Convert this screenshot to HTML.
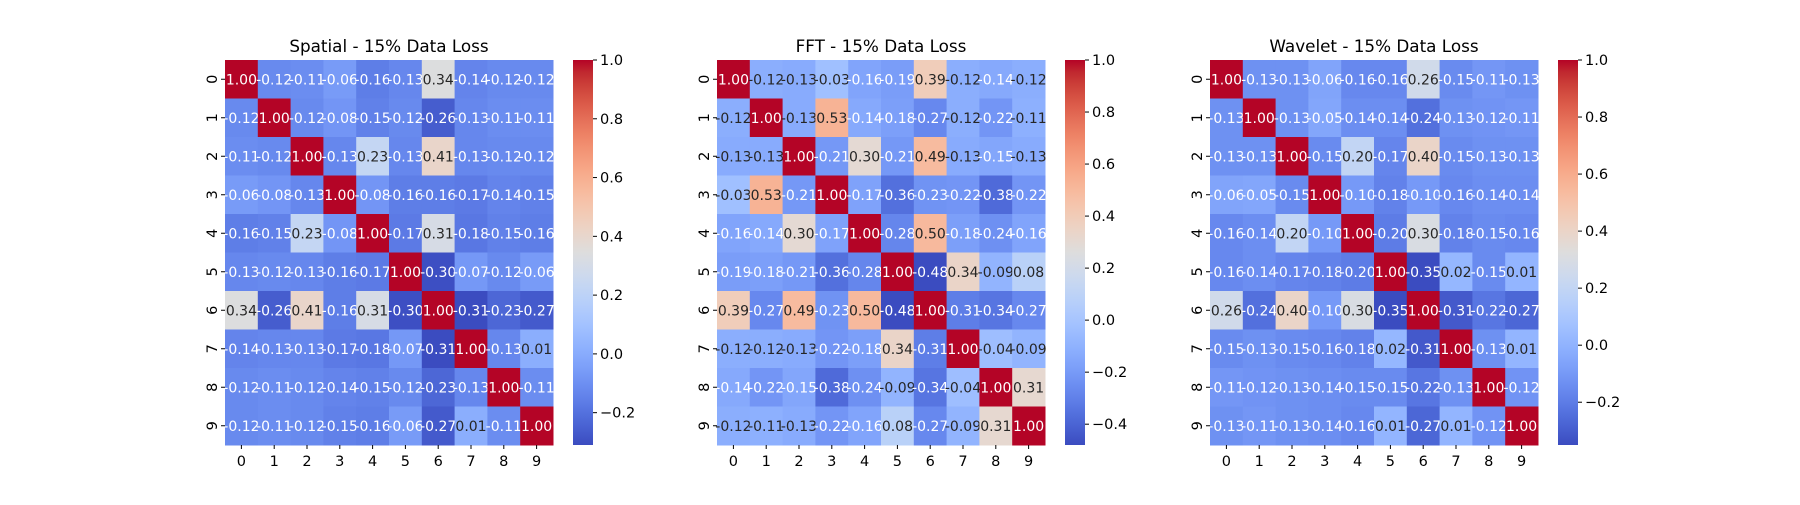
<!DOCTYPE html>
<html><head><meta charset="utf-8"><style>
html,body{margin:0;padding:0;background:#fff;}
svg text{font-family:"DejaVu Sans","Liberation Sans",sans-serif;}
</style></head><body>
<svg id="fig" width="1800" height="500" viewBox="0 0 1800 500" xmlns="http://www.w3.org/2000/svg"></svg>
<script>
const labels = ["0","1","2","3","4","5","6","7","8","9"];
const titles = ["Spatial - 15% Data Loss","FFT - 15% Data Loss","Wavelet - 15% Data Loss"];
const spatial = [
[1.00,-0.12,-0.11,-0.06,-0.16,-0.13,0.34,-0.14,-0.12,-0.12],
[-0.12,1.00,-0.12,-0.08,-0.15,-0.12,-0.26,-0.13,-0.11,-0.11],
[-0.11,-0.12,1.00,-0.13,0.23,-0.13,0.41,-0.13,-0.12,-0.12],
[-0.06,-0.08,-0.13,1.00,-0.08,-0.16,-0.16,-0.17,-0.14,-0.15],
[-0.16,-0.15,0.23,-0.08,1.00,-0.17,0.31,-0.18,-0.15,-0.16],
[-0.13,-0.12,-0.13,-0.16,-0.17,1.00,-0.30,-0.07,-0.12,-0.06],
[0.34,-0.26,0.41,-0.16,0.31,-0.30,1.00,-0.31,-0.23,-0.27],
[-0.14,-0.13,-0.13,-0.17,-0.18,-0.07,-0.31,1.00,-0.13,0.01],
[-0.12,-0.11,-0.12,-0.14,-0.15,-0.12,-0.23,-0.13,1.00,-0.11],
[-0.12,-0.11,-0.12,-0.15,-0.16,-0.06,-0.27,0.01,-0.11,1.00]];
const fft = [
[1.00,-0.12,-0.13,-0.03,-0.16,-0.19,0.39,-0.12,-0.14,-0.12],
[-0.12,1.00,-0.13,0.53,-0.14,-0.18,-0.27,-0.12,-0.22,-0.11],
[-0.13,-0.13,1.00,-0.21,0.30,-0.21,0.49,-0.13,-0.15,-0.13],
[-0.03,0.53,-0.21,1.00,-0.17,-0.36,-0.23,-0.22,-0.38,-0.22],
[-0.16,-0.14,0.30,-0.17,1.00,-0.28,0.50,-0.18,-0.24,-0.16],
[-0.19,-0.18,-0.21,-0.36,-0.28,1.00,-0.48,0.34,-0.09,0.08],
[0.39,-0.27,0.49,-0.23,0.50,-0.48,1.00,-0.31,-0.34,-0.27],
[-0.12,-0.12,-0.13,-0.22,-0.18,0.34,-0.31,1.00,-0.04,-0.09],
[-0.14,-0.22,-0.15,-0.38,-0.24,-0.09,-0.34,-0.04,1.00,0.31],
[-0.12,-0.11,-0.13,-0.22,-0.16,0.08,-0.27,-0.09,0.31,1.00]];
const wavelet = [
[1.00,-0.13,-0.13,-0.06,-0.16,-0.16,0.26,-0.15,-0.11,-0.13],
[-0.13,1.00,-0.13,-0.05,-0.14,-0.14,-0.24,-0.13,-0.12,-0.11],
[-0.13,-0.13,1.00,-0.15,0.20,-0.17,0.40,-0.15,-0.13,-0.13],
[-0.06,-0.05,-0.15,1.00,-0.10,-0.18,-0.10,-0.16,-0.14,-0.14],
[-0.16,-0.14,0.20,-0.10,1.00,-0.20,0.30,-0.18,-0.15,-0.16],
[-0.16,-0.14,-0.17,-0.18,-0.20,1.00,-0.35,0.02,-0.15,0.01],
[0.26,-0.24,0.40,-0.10,0.30,-0.35,1.00,-0.31,-0.22,-0.27],
[-0.15,-0.13,-0.15,-0.16,-0.18,0.02,-0.31,1.00,-0.13,0.01],
[-0.11,-0.12,-0.13,-0.14,-0.15,-0.15,-0.22,-0.13,1.00,-0.12],
[-0.13,-0.11,-0.13,-0.14,-0.16,0.01,-0.27,0.01,-0.12,1.00]];
const cbTicks1 = [-0.2,0.0,0.2,0.4,0.6,0.8,1.0];
const cbTicks2 = [-0.4,-0.2,0.0,0.2,0.4,0.6,0.8,1.0];
const cbTicks3 = [-0.2,0.0,0.2,0.4,0.6,0.8,1.0];

const CW=[[59,76,192],[68,90,204],[77,104,215],[87,117,225],[98,130,234],[108,142,241],[119,154,247],[130,165,251],[141,176,254],[152,185,255],[163,194,255],[174,201,253],[184,208,249],[194,213,244],[204,217,238],[213,219,230],[221,221,221],[229,216,209],[236,211,197],[241,204,184],[245,196,172],[247,187,159],[247,177,147],[247,166,134],[244,154,123],[241,141,111],[236,127,99],[229,112,89],[222,96,77],[213,80,66],[203,62,56],[192,40,47],[180,4,38]];
function cmap(t){t=Math.max(0,Math.min(1,t));const p=t*32,i=Math.min(31,Math.floor(p)),f=p-i;
 return CW[i].map((c,k)=>Math.round(c+(CW[i+1][k]-c)*f));}
function lum(c){const l=c.map(v=>{v/=255;return v<=0.03928?v/12.92:Math.pow((v+0.055)/1.055,2.4);});return 0.2126*l[0]+0.7152*l[1]+0.0722*l[2];}
const NS="http://www.w3.org/2000/svg";
const svg=document.getElementById('fig');
function mk(tag,attrs,parent){const e=document.createElementNS(NS,tag);for(const k in attrs)e.setAttribute(k,attrs[k]);(parent||svg).appendChild(e);return e;}
const panels=[{x0:225,data:spatial,ticks:cbTicks1,key:'spatial'},{x0:717,data:fft,ticks:cbTicks2,key:'fft'},{x0:1210,data:wavelet,ticks:cbTicks3,key:'wavelet'}];
const Y0=60,H=385,W=328;
panels.forEach((p,pi)=>{
 const g=mk('g',{});
 
 
 const flat=p.data.flat(); const vmin=Math.min(...flat), vmax=Math.max(...flat);
 const n=labels.length, cw=W/n, ch=H/n;
 const xs=i=>p.x0+i*cw, ys=j=>Y0+j*ch;
 p.data.forEach((row,r)=>row.forEach((v,c)=>{
  const col=cmap((v-vmin)/(vmax-vmin));
  const rc=mk('rect',{x:xs(c),y:ys(r),width:cw+0.5,height:ch+0.5,fill:`rgb(${col})`},g);
  
  
  const t=mk('text',{x:xs(c)+cw/2,y:ys(r)+ch/2+5,'text-anchor':'middle','font-size':'14',fill:lum(col)>0.408?'#262626':'#ffffff'},g);
  t.textContent=v.toFixed(2);
  
  
 }));
 const tt=mk('text',{x:p.x0+W/2,y:Y0-8,'text-anchor':'middle','font-size':'16.8',fill:'#000'},g);
 tt.textContent=titles[pi];
 
 
 labels.forEach((lb,i)=>{
  mk('line',{x1:xs(i)+cw/2,x2:xs(i)+cw/2,y1:Y0+H,y2:Y0+H+4,stroke:'#000','stroke-width':1},g);
  const xt=mk('text',{x:xs(i)+cw/2,y:Y0+H+21,'text-anchor':'middle','font-size':'14.5',fill:'#000'},g);
  xt.textContent=lb;
  
  
  const yc=ys(i)+ch/2;
  mk('line',{x1:p.x0-4,x2:p.x0,y1:yc,y2:yc,stroke:'#000','stroke-width':1},g);
  const yt=mk('text',{x:p.x0-8,y:yc,'text-anchor':'middle','font-size':'14.5',fill:'#000',transform:`rotate(-90 ${p.x0-8} ${yc})`},g);
  yt.textContent=lb;
  
  
 });
 const cbx=p.x0+348, cbw=20;
 const gid='grad'+pi;
 const defs=mk('defs',{},g);
 const lg=mk('linearGradient',{id:gid,x1:0,y1:1,x2:0,y2:0},defs);
 for(let k=0;k<=32;k++)mk('stop',{offset:k/32,'stop-color':`rgb(${CW[k]})`},lg);
 const cb=mk('rect',{x:cbx,y:Y0,width:cbw,height:H,fill:`url(#${gid})`},g);
 
 
 const cy=v=>Y0+H-(v-vmin)/(vmax-vmin)*H;
 p.ticks.forEach(v=>{
  const y=cy(v);
  mk('line',{x1:cbx+cbw,x2:cbx+cbw+4,y1:y,y2:y,stroke:'#000','stroke-width':1},g);
  const ct=mk('text',{x:cbx+cbw+7,y:y+5,'font-size':'14.5',fill:'#000'},g);
  ct.textContent=(v<0?'\u2212':'')+Math.abs(v).toFixed(1);
  
  
 });
});
</script>
</body></html>
